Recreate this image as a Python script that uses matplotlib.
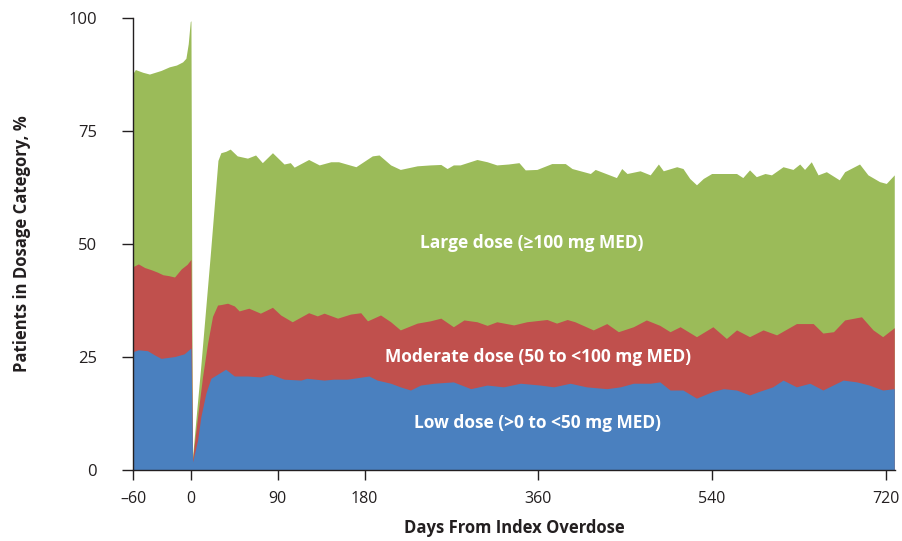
import matplotlib

matplotlib.use("Agg")
import matplotlib.pyplot as plt

# cumulative share of patients (% of cohort)
# any dose = low + moderate + large (top of green band)
any_days = [-60, -57.6, -50, -43, -31, -22.4, -15, -8.6, -5.2, -2.8, -0.7, 0, 1.5, 10, 20, 28,
            31, 36, 40.7, 48, 58.6, 67, 74, 84.5, 96.5, 103, 107, 122, 133, 145, 153, 171,
            188, 195, 207, 217, 234.5, 248, 259, 265.5, 272, 279, 296.5, 307, 317, 329, 340,
            346.5, 358.6, 374, 388, 395, 414, 419, 441, 446.5, 452, 465.5, 476, 484.5, 489.6,
            503.5, 510, 517, 524, 531, 539.7, 551.7, 565.5, 572, 579, 586, 595, 601.7, 613.7,
            624, 631, 636, 643, 650, 658.6, 672, 677.6, 693, 701.7, 713.8, 720.7, 729]
any_pct = [87.8, 88.6, 88.0, 87.6, 88.4, 89.2, 89.6, 90.3, 91.1, 94.3, 99.2, 99.4, 2.6, 22.5, 47.5, 68.5,
           70.2, 70.5, 71.0, 69.5, 69.0, 69.7, 68.0, 70.2, 67.7, 68.0, 67.0, 68.7, 67.5, 68.2, 68.2, 67.1,
           69.5, 69.7, 67.5, 66.5, 67.3, 67.5, 67.6, 66.7, 67.5, 67.5, 68.7, 68.2, 67.5, 67.7, 68.0,
           66.4, 66.5, 67.8, 67.8, 66.7, 65.6, 66.5, 64.7, 66.7, 65.6, 66.2, 65.3, 67.7, 66.2,
           67.1, 66.7, 64.5, 63.1, 64.5, 65.6, 65.6, 65.6, 64.7, 66.4, 64.9, 65.6, 65.3, 67.1,
           66.5, 67.7, 66.5, 68.2, 65.3, 66.0, 64.2, 66.0, 67.7, 65.3, 63.8, 63.4, 65.3]

# low + moderate dose (top of red band)
lowmod_days = [-60, -54.5, -48, -41, -35, -29, -23, -17, -10, -4, 0, 1.6, 6.9, 12, 17.2, 22.4,
               27.6, 31, 38, 45, 50, 60, 72, 84.5, 93, 105, 122, 131, 138, 152, 165.5, 176,
               183, 196.5, 207, 217, 234.5, 248, 259, 272, 283, 296.5, 307, 317, 334.5, 348,
               369, 379, 390, 398, 417, 431, 443, 458.6, 472, 486, 496.6, 507, 524, 541, 555,
               565.5, 579, 593, 607, 627.6, 645, 655, 666, 677.6, 695, 707, 717, 729]
lowmod_pct = [45.0, 45.6, 44.8, 44.3, 43.8, 43.2, 43.0, 42.7, 44.5, 45.5, 46.6, 2.3, 11.8, 20.6, 28.0, 34.0,
              36.5, 36.6, 36.9, 36.3, 35.2, 35.8, 34.7, 36.0, 34.3, 32.8, 34.8, 34.1, 34.7, 33.6, 34.5, 34.8,
              33.0, 34.3, 32.8, 31.0, 32.5, 33.0, 33.6, 31.7, 33.2, 32.8, 32.0, 32.8, 32.1, 32.8,
              33.3, 32.5, 33.3, 32.8, 31.0, 32.4, 30.6, 31.7, 33.2, 32.0, 30.6, 31.7, 29.5, 31.7, 29.1,
              31.0, 29.5, 31.0, 29.9, 32.4, 32.4, 30.3, 30.6, 33.2, 33.9, 31.0, 29.5, 31.5]

# low dose only (top of blue band)
low_days = [-60, -54.5, -45, -38, -31, -24, -17, -7, 0, 1.7, 6.9, 10.3, 15.5, 20.7, 27.6, 36,
            45, 58.6, 72, 83, 96.5, 114, 120, 138, 148, 162, 184.5, 193, 207, 217, 227.6, 238,
            252, 272, 290, 307, 324, 341.5, 362, 376, 393, 410, 431, 445, 458.6, 476, 486,
            496.6, 510, 524, 541, 552, 565.5, 579, 589, 603, 613.7, 627.6, 641.5, 655, 676,
            690, 703, 717, 729]
low_pct = [26.2, 26.6, 26.4, 25.5, 24.7, 24.9, 25.1, 25.7, 27.0, 1.8, 6.6, 11.8, 17.0, 20.3, 21.2, 22.3,
           20.8, 20.8, 20.6, 21.2, 20.1, 19.9, 20.3, 19.9, 20.1, 20.1, 20.8, 19.9, 19.2, 18.4, 17.7, 18.8,
           19.2, 19.5, 18.0, 18.8, 18.4, 19.2, 18.8, 18.4, 19.2, 18.4, 18.0, 18.4, 19.2, 19.2, 19.5,
           17.7, 17.7, 15.9, 17.4, 18.0, 17.7, 16.6, 17.4, 18.4, 19.9, 18.4, 19.2, 17.7, 19.9,
           19.5, 18.8, 17.7, 18.0]

x_ticks = [-60, 0, 90, 180, 360, 540, 720]
x_tick_labels = ["\u201360", "0", "90", "180", "360", "540", "720"]
y_ticks = [0, 25, 50, 75, 100]

band_labels = [
    ("Large dose (\u2265100 mg MED)", 353, 50.2),
    ("Moderate dose (50 to <100 mg MED)", 360, 25.0),
    ("Low dose (>0 to <50 mg MED)", 359, 10.4),
]

GREEN = "#9bbb59"
RED = "#c0504d"
BLUE = "#4a80bf"
INK = "#231f20"

plt.rcParams["font.family"] = ["Open Sans", "DejaVu Sans"]

fig = plt.figure(figsize=(9.02, 5.41), dpi=100)
ax = fig.add_axes([0.1475, 0.1312, 0.845, 0.8355])

ax.fill_between(any_days, 0, any_pct, color=GREEN, lw=0, zorder=1)
ax.fill_between(lowmod_days, 0, lowmod_pct, color=RED, lw=0, zorder=2)
ax.fill_between(low_days, 0, low_pct, color=BLUE, lw=0, zorder=3)

for text, x, y in band_labels:
    ax.text(x, y, text, color="white", fontsize=12.5, fontweight="bold",
            ha="center", va="center", zorder=5)

ax.set_xlim(-60, 730)
ax.set_ylim(0, 100)

ax.set_xticks(x_ticks)
ax.set_xticklabels(x_tick_labels, fontsize=11.5)
ax.set_yticks(y_ticks)
ax.set_yticklabels([str(v) for v in y_ticks], fontsize=12)

ax.tick_params(axis="x", direction="out", length=7, width=1, color=INK, labelcolor=INK, pad=8)
ax.tick_params(axis="y", direction="out", length=8, width=1, color=INK, labelcolor=INK, pad=18)

for side in ["top", "right"]:
    ax.spines[side].set_visible(False)
for side in ["left", "bottom"]:
    ax.spines[side].set_color(INK)
    ax.spines[side].set_linewidth(1)
    ax.spines[side].set_zorder(6)

ax.set_xlabel("Days From Index Overdose", fontsize=12, fontweight="bold",
              color=INK, labelpad=9)
ax.set_ylabel("Patients in Dosage Category, %", fontsize=12, fontweight="bold",
              color=INK, labelpad=27)

fig.savefig("out.png", dpi=100)
